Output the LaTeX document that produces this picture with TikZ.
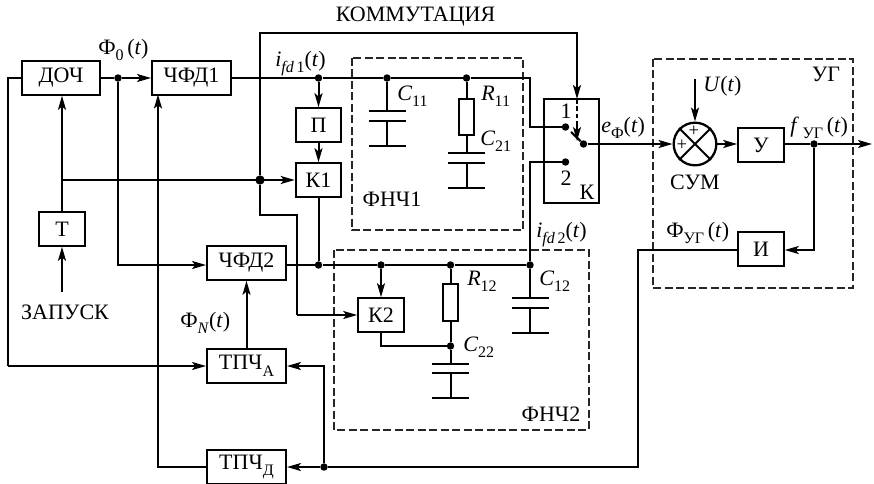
\documentclass[tikz,border=0pt]{standalone}
\usepackage{fontspec}
\setmainfont{Liberation Serif}
\usetikzlibrary{arrows.meta,calc}
\newcommand{\sbx}[1]{\raisebox{-0.3em}{\fontsize{12}{12}\selectfont #1}}
\tikzset{
  >={Stealth[length=10.5pt,width=6pt,inset=2.4pt]},
  wire/.style={line width=1.5pt,line cap=butt,line join=miter},
  arr/.style={wire,->},
  dashbox/.style={line width=0.85pt,dash pattern=on 6pt off 2.6pt,draw=black!85},
  blk/.style={draw,line width=1.7pt,minimum height=25pt,inner sep=0pt,font=\fontsize{16.5}{17}\selectfont},
  wide/.style={blk,minimum width=59pt},
  narrow/.style={blk,minimum width=34pt},
  resist/.style={draw,line width=1.3pt,minimum width=11pt,minimum height=27.5pt,inner sep=0pt},
  txt/.style={inner sep=0pt,font=\fontsize{16.5}{17}\selectfont},
  lbl/.style={txt,anchor=base west},
  dot/.style={circle,fill=black,inner sep=0pt,minimum size=5.6pt},
  bigdot/.style={circle,fill=black,inner sep=0pt,minimum size=7pt},
  capg/.pic={
    \draw[line width=1.5pt] (-18.5,0)--(18.5,0) (-18.5,9.5)--(18.5,9.5);
    \draw[line width=1.5pt] (0,9.5)--(0,34.5) (-18.5,34.5)--(18.5,34.5);
  }
}
\begin{document}
\begin{tikzpicture}[x=0.75pt,y=-0.75pt]
\useasboundingbox (0,0) rectangle (874,483);
% dashed frames
\draw[dashbox] (352,58) rectangle (523,230);
\draw[dashbox] (334,250) rectangle (589,430);
\draw[dashbox] (653,59) rectangle (853,288);
% blocks
\node[wide] (doch) at (61,78) {ДОЧ};
\node[wide] (chfd1) at (191.5,78) {ЧФД1};
\node[narrow] (p) at (318.5,125) {П};
\node[narrow] (k1) at (318.5,180) {К1};
\node[narrow] (t) at (62,229) {Т};
\node[wide] (chfd2) at (246.5,263) {ЧФД2};
\node[narrow] (k2) at (381,315) {К2};
\node[wide] (tpa) at (246.5,366) {ТПЧ\sbx{А}};
\node[wide] (tpd) at (246.5,467) {ТПЧ\sbx{Д}};
\node[narrow] (u) at (761,145) {У};
\node[narrow] (i) at (761,249) {И};
\node[draw,line width=1.5pt,minimum width=41pt,minimum height=78pt,inner sep=0pt] (ksw) at (571.5,151) {};
\node[draw,circle,line width=1.7pt,minimum size=32pt,inner sep=0pt] (sum) at (695,144) {};
\draw[line width=1.5pt] (sum.45)--(sum.225) (sum.135)--(sum.315);
% resistors
\node[resist] (r11) at (466.5,117) {};
\node[resist] (r12) at (450.5,302.5) {};
% capacitor tops
\coordinate (c11) at (387,111);
\coordinate (c21) at (466.5,153);
\coordinate (c12) at (530,298);
\coordinate (c22) at (450.5,363.5);
\pic at (c11) {capg};
\pic at (c21) {capg};
\pic at (c12) {capg};
\pic at (c22) {capg};
% junctions
\node[dot] (j0) at (118,78) {};
\node[dot] (j1) at (318.5,78) {};
\node[dot] (jc11) at (387,78) {};
\node[dot] (jr11) at (466.5,78) {};
\coordinate (tr1) at (530,78);
\node[bigdot] (jt) at (260,180) {};
\node[dot] (j2) at (318.5,265) {};
\node[dot] (jk2) at (381,265) {};
\node[dot] (jr12) at (450.5,265) {};
\node[dot] (jc12) at (530,265) {};
\node[dot] (jc22) at (450.5,346) {};
\node[dot] (jb) at (324,467) {};
\node[dot] (jf) at (814,144) {};
\node[dot] (s1) at (565.5,127) {};
\node[dot] (s2) at (565.5,162) {};
\node[dot] (s0) at (583.5,144) {};
\coordinate (tt) at (62,180);
\coordinate (startt) at (62,292);
\coordinate (uin) at (695,79);
\coordinate (fout) at (872,144);
\coordinate (fb) at (158,94.5);
% left part
\draw[wire] (doch.west) -- (8,78) -- (8,366);
\draw[arr] (8,366) -- (tpa.west);
\draw[wire] (doch.east) -- (j0);
\draw[arr] (j0) -- (chfd1.west);
\draw[arr] (j0) -- (118,265) -- (chfd2.west|-j2);
\draw[arr] (t.north) -- (t.north|-doch.south);
\draw[arr] (startt) -- (t.south);
\draw[arr] (tt) -- (k1.west|-tt);
\draw[arr] (tpd.west) -- (158,467) -- (fb);
\draw[arr] (tpa.north) -- (chfd2.south);
% upper bus
\draw[wire] (chfd1.east) -- (j1) -- (jc11) -- (jr11) -- (tr1) -- (530,127) -- (s1);
\draw[arr] (j1) -- (p.north);
\draw[arr] (p.south) -- (k1.north);
\draw[wire] (k1.south) -- (j2);
% commutation
\draw[arr] (jt) -- (260,33) -- (577,33) -- (577,99);
\draw[wire] (jt) -- (260,215) -- (297,215) -- (297,315);
\draw[arr] (297,315) -- (k2.west);
\draw[line width=0.9pt,dash pattern=on 3.5pt off 2pt] (577,99) -- (577,125);
\draw[arr,line width=1pt] (577,122) -- (577,141);
\draw[line width=1.6pt] (571,132) -- (s0);
% lower bus
\draw[wire] (chfd2.east|-j2) -- (j2) -- (jk2) -- (jr12) -- (jc12);
\draw[wire] (jc12) -- (530,162) -- (s2);
\draw[arr] (jk2) -- (k2.north);
\draw[wire] (k2.south) -- (381,346) -- (jc22);
% filters
\draw[wire] (jc11) -- (c11);
\draw[wire] (jr11) -- (r11.north);
\draw[wire] (r11.south) -- (c21);
\draw[wire] (jr12) -- (r12.north);
\draw[wire] (r12.south) -- (jc22) -- (c22);
\draw[wire] (jc12) -- (c12);
% right part
\draw[arr] (s0) -- (sum.west);
\draw[arr] (sum.east) -- (u.west|-sum.east);
\draw[arr] (uin) -- (sum.north);
\draw[wire] (u.east|-jf) -- (jf);
\draw[arr] (jf) -- (fout);
\draw[arr] (jf) -- (814,250) -- (i.east|-814,250);
% feedback
\draw[wire] (i.west|-638,250) -- (638,250) -- (638,467) -- (jb);
\draw[arr] (jb) -- (tpd.east);
\draw[arr] (jb) -- (324,366) -- (tpa.east);
% labels
\node[txt] (lcomm) at (415.5,17) {КОММУТАЦИЯ};
\node[lbl] (lf0) at (98,54) {Ф\sbx{0}\,(\textit{t})};
\node[lbl] (li1) at (275,66) {\textit{i}\sbx{\textit{fd}\,1}(\textit{t})};
\node[lbl] (li2) at (536,237) {\textit{i}\sbx{\textit{fd}\,2}(\textit{t})};
\node[lbl] (lc11) at (397,100) {\textit{C}\sbx{11}};
\node[lbl] (lr11) at (481,100) {\textit{R}\sbx{11}};
\node[lbl] (lc21) at (480,145) {\textit{C}\sbx{21}};
\node[lbl] (lr12) at (467,285) {\textit{R}\sbx{12}};
\node[lbl] (lc12) at (539,285) {\textit{C}\sbx{12}};
\node[lbl] (lc22) at (463,351) {\textit{C}\sbx{22}};
\node[txt] (lf1) at (392,199) {ФНЧ1};
\node[txt] (lf2) at (551,414) {ФНЧ2};
\node[txt] (ls1) at (566,111) {1};
\node[txt] (ls2) at (566,178) {2};
\node[txt] (lk) at (587,192) {К};
\node[txt] (lzap) at (65,312) {ЗАПУСК};
\node[lbl] (lfn) at (180,327) {Ф\sbx{\textit{N}}(\textit{t})};
\node[lbl] (le) at (601,132) {\textit{e}\sbx{Ф}(\textit{t})};
\node[lbl] (lu) at (703,91) {\textit{U}(\textit{t})};
\node[txt] (lsum) at (695,182) {СУМ};
\node[txt] (lug) at (826,74) {УГ};
\node[lbl] (lfu) at (790,132) {\textit{f}\,\sbx{УГ}\,(\textit{t})};
\node[lbl] (lfug) at (666,237) {Ф\sbx{УГ}\,(\textit{t})};
\node[txt,font=\fontsize{14}{14}\selectfont] (pl1) at (694,131) {+};
\node[txt,font=\fontsize{14}{14}\selectfont] (pl2) at (682,145) {+};
\end{tikzpicture}
\end{document}
